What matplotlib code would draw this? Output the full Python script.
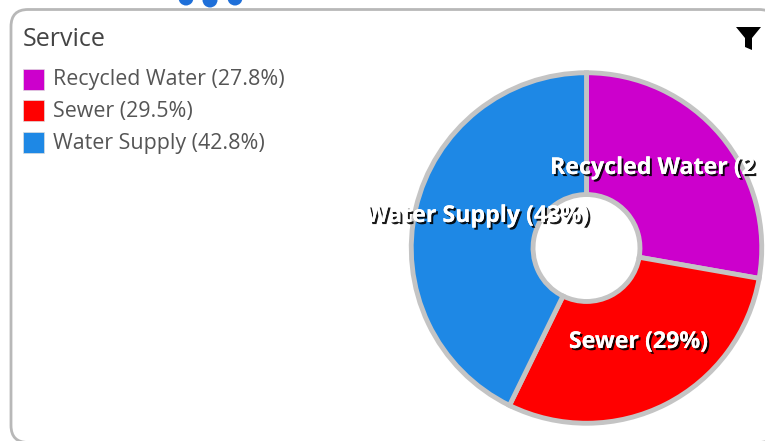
import matplotlib
matplotlib.use('Agg')
import matplotlib.pyplot as plt
import matplotlib.patches as mpatches
import matplotlib.patheffects as pe

plt.rcParams['font.family'] = ['Open Sans', 'DejaVu Sans']

title = 'Service'
services = ['Recycled Water', 'Sewer', 'Water Supply']
shares = [27.8, 29.5, 42.8]
rounded = [28, 29, 43]
colors = ['#cc00cc', '#ff0000', '#1e88e5']

W, H = 765, 441
fig = plt.figure(figsize=(W / 100, H / 100), dpi=100)

# overlay in pixel coords, y pointing down like the screenshot
bg = fig.add_axes([0, 0, 1, 1])
bg.set_xlim(0, W)
bg.set_ylim(H, 0)
bg.axis('off')

# card border
bg.add_patch(mpatches.FancyBboxPatch((11, 9.5), 765, 433, boxstyle='round,pad=0,rounding_size=17',
                                     fc='white', ec='#b8b8b8', lw=2))

# the three dots poking in at the top
for dx, dy in [(186, -2), (210, 0), (235, -2)]:
    bg.add_patch(mpatches.Circle((dx, dy), 7.5, fc='#1e6fd9', ec='none'))

bg.text(23, 40, title, fontsize=18, color='#444444', va='center', ha='left')

# legend
for i, (name, share, col) in enumerate(zip(services, shares, colors)):
    y = 79 + i * 31.5
    bg.add_patch(mpatches.Rectangle((23, y - 10.5), 21, 21, fc=col, ec='#dddddd', lw=0.5))
    bg.text(53, y + 1, f'{name} ({share}%)', fontsize=15.4, color='#555555', va='center', ha='left')

# filter icon
bg.add_patch(mpatches.Polygon([(736, 27), (761, 27), (752, 38), (752, 50), (745, 47), (745, 38)],
                              closed=True, fc='black', ec='none'))

# donut
cx, cy, r = 586.5, 248, 177
pie_ax = fig.add_axes([(cx - r) / W, 1 - (cy + r) / H, 2 * r / W, 2 * r / H])
wedges, _ = pie_ax.pie(shares, colors=colors, startangle=90, counterclock=False, radius=1,
                       wedgeprops=dict(width=1 - 54 / 177, edgecolor='#c4c4c4', linewidth=3.5))
pie_ax.set_xlim(-1.01, 1.01)
pie_ax.set_ylim(-1.01, 1.01)

# slice labels
label_pos = [(550, 168, 'left'), (638, 342, 'center'), (477, 216, 'center')]
top = fig.add_axes([0, 0, 1, 1])
top.set_xlim(0, W)
top.set_ylim(H, 0)
top.axis('off')
top.patch.set_alpha(0)
clip = mpatches.Rectangle((0, 0), 757, H, transform=top.transData)
for name, val, (x, y, ha) in zip(services, rounded, label_pos):
    t = top.text(x, y, f'{name} ({val}%)', fontsize=16.7, fontweight='bold', color='white',
                 va='center', ha=ha)
    t.set_path_effects([pe.withSimplePatchShadow(offset=(1.5, -1.5), shadow_rgbFace='black', alpha=0.9),
                        pe.Normal()])
    t.set_clip_on(True)
    t.set_clip_path(clip)

fig.savefig('out.png', dpi=100)
